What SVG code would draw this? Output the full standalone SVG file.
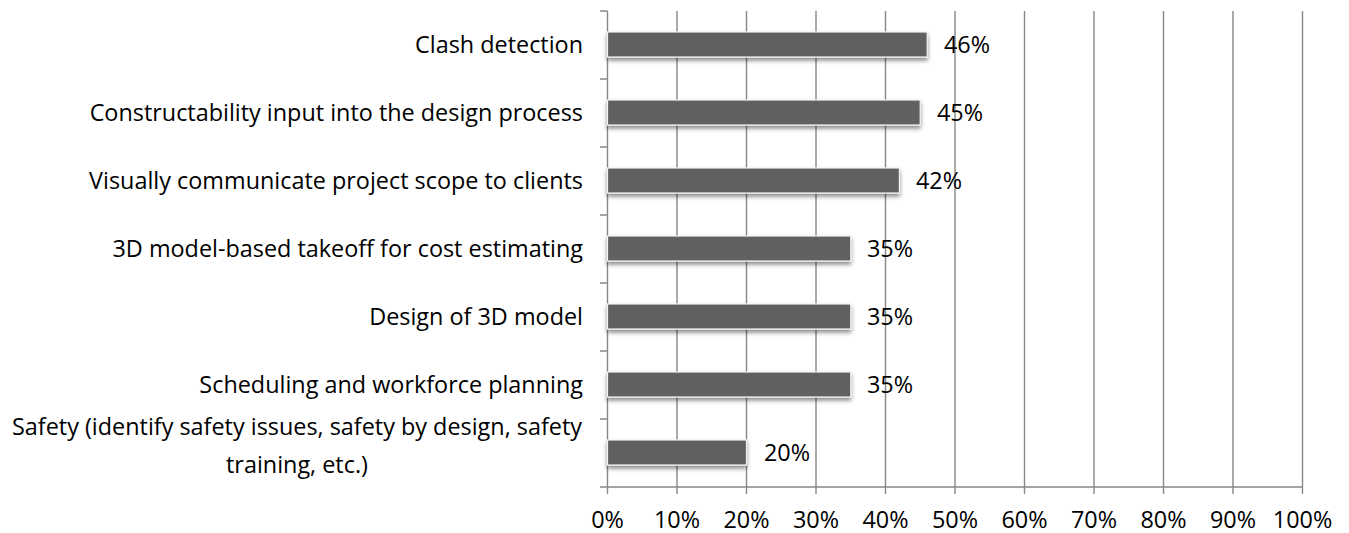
<svg xmlns="http://www.w3.org/2000/svg" width="1349" height="533" viewBox="0 0 1349 533">
<style>
text{font-family:"Open Sans","Liberation Sans",sans-serif;font-size:23.4px;fill:#000}
.cat{text-anchor:end}
.ax{text-anchor:middle}
.grid{stroke:#878787;stroke-width:1.4;fill:none}
.bar{fill:#606060;stroke:#f4f4f4;stroke-width:1.2;filter:url(#sh)}
</style>
<defs>
<filter id="sh" x="-5%" y="-30%" width="110%" height="180%">
<feDropShadow dx="0" dy="3" stdDeviation="2" flood-color="#000" flood-opacity="0.45"/>
</filter>
</defs>
<g id="axes">
<path class="grid" d="M677,11V494M746.5,11V494M816,11V494M885.5,11V494M955,11V494M1024.5,11V494M1094,11V494M1163.5,11V494M1233,11V494M1302.5,11V494"/>
<path class="grid" d="M607.5,11V494M600,487H1302.5M600,11H607.5M600,79H607.5M600,147H607.5M600,215H607.5M600,283H607.5M600,351H607.5M600,419H607.5"/>
<text class="ax" x="607.5" y="528">0%</text>
<text class="ax" x="677" y="528">10%</text>
<text class="ax" x="746.5" y="528">20%</text>
<text class="ax" x="816" y="528">30%</text>
<text class="ax" x="885.5" y="528">40%</text>
<text class="ax" x="955" y="528">50%</text>
<text class="ax" x="1024.5" y="528">60%</text>
<text class="ax" x="1094" y="528">70%</text>
<text class="ax" x="1163.5" y="528">80%</text>
<text class="ax" x="1233" y="528">90%</text>
<text class="ax" x="1302.5" y="528">100%</text>
</g>
<g id="bar1"><rect class="bar" x="607.5" y="32" width="319.7" height="25"/><text class="cat" x="583" y="53">Clash detection</text><text x="944" y="53">46%</text></g>
<g id="bar2"><rect class="bar" x="607.5" y="100" width="312.7" height="25"/><text class="cat" x="583" y="121">Constructability input into the design process</text><text x="937" y="121">45%</text></g>
<g id="bar3"><rect class="bar" x="607.5" y="168" width="291.9" height="25"/><text class="cat" x="583" y="189">Visually communicate project scope to clients</text><text x="916" y="189">42%</text></g>
<g id="bar4"><rect class="bar" x="607.5" y="236" width="243.3" height="25"/><text class="cat" x="583" y="257">3D model-based takeoff for cost estimating</text><text x="867" y="257">35%</text></g>
<g id="bar5"><rect class="bar" x="607.5" y="304" width="243.3" height="25"/><text class="cat" x="583" y="325">Design of 3D model</text><text x="867" y="325">35%</text></g>
<g id="bar6"><rect class="bar" x="607.5" y="372" width="243.3" height="25"/><text class="cat" x="583" y="393">Scheduling and workforce planning</text><text x="867" y="393">35%</text></g>
<g id="bar7"><rect class="bar" x="607.5" y="440" width="139" height="25"/><text class="ax" x="297" y="435">Safety (identify safety issues, safety by design, safety</text><text class="ax" x="297" y="473">training, etc.)</text><text x="764" y="461">20%</text></g>
</svg>
